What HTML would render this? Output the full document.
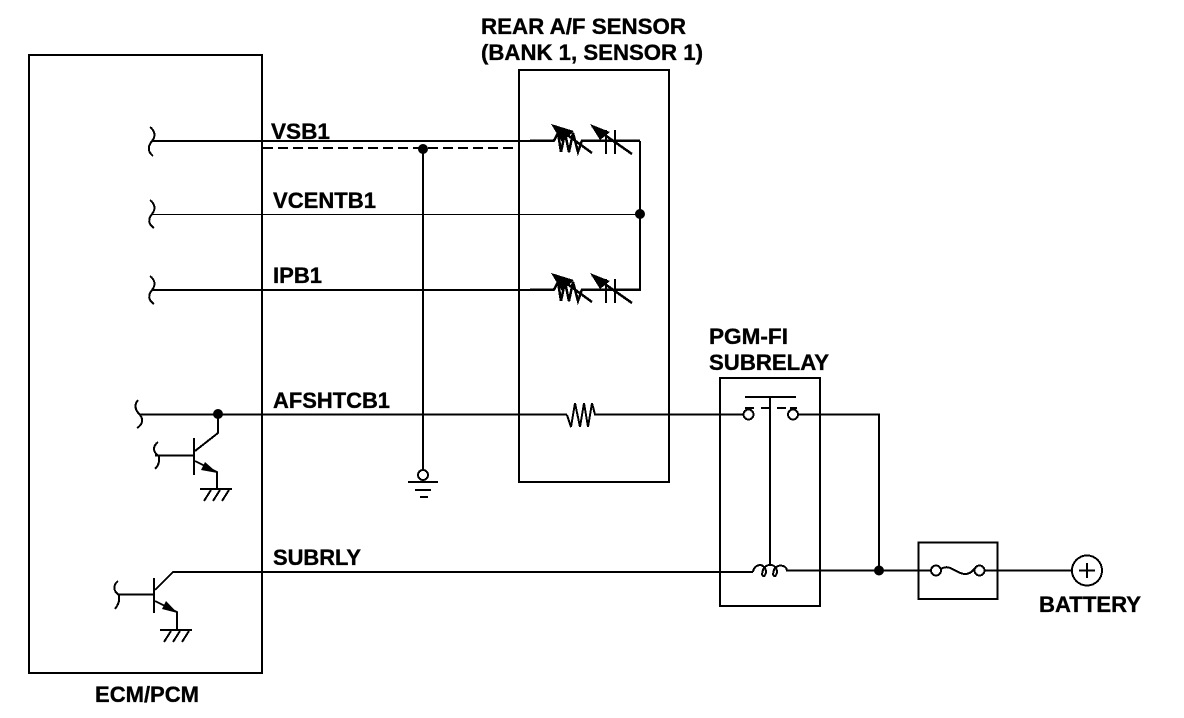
<!DOCTYPE html>
<html><head><meta charset="utf-8"><style>
html,body{margin:0;padding:0;background:#fff}
svg{display:block}
text{font-family:"Liberation Sans",sans-serif;font-weight:bold;font-size:22px;fill:#000;stroke:#000;stroke-width:.35px}
</style></head><body>
<svg width="1184" height="718" viewBox="0 0 1184 718" xmlns="http://www.w3.org/2000/svg">
<defs>
<g id="sensor" fill="none" stroke="#000" shape-rendering="crispEdges">
<path d="M530 140.500H554L558 133L561 152L565 133L569 152L573 133L578 152L582 140.500H640" stroke-width="2.500"/>
<path d="M555 126L592 153M592 126L632 154" stroke-width="2.500"/>
<path d="M606 130V154M615 130V154" stroke-width="2"/>
<path d="M551 124L574 131L562 142Z M590 124L610 132L600 140Z" fill="#000" stroke="none"/>
</g>
<g id="hatch" fill="none" stroke="#000" stroke-width="2" shape-rendering="crispEdges">
<path d="M0 0H32M11 1L4 12M20 1L13 12M29 1L22 12"/>
</g>
</defs>
<g fill="none" stroke="#000" stroke-width="2" shape-rendering="crispEdges">
<rect x="29" y="55" width="233" height="618"/>
<rect x="519" y="70" width="150" height="412"/>
<rect x="720" y="378" width="100" height="228"/>
<rect x="918.500" y="542.500" width="79" height="56.500"/>
<path d="M263 148H519" stroke-dasharray="10 5"/>
<path d="M152 141H530M152 290H530M423 149V470"/>
<path d="M152 214.500H640" stroke-width="1"/>
<path d="M640 141V291"/>
<path d="M150 127C155 131 156 136 152 141C148 146 147 151 153 156"/>
<path d="M150 200C155 204 156 209 152 214C148 219 148 224 154 228"/>
<path d="M150 276C155 280 156 285 152 290C148 295 148 300 154 304"/>
<path d="M138 400C134 405 135 410 140 415C144 420 142 425 137 428M140 414.500H567"/>
<path d="M218 415V433L195 451M194 438V475M155 455.500H194"/>
<path d="M158 442C153 446 152 452 159 456C160 462 158 466 155 469"/>
<path d="M195 461L217 472V490"/>
<path d="M118 581C113 585 113 591 119 595C120 601 118 605 115 609"/>
<path d="M119 594.500H154M154 578V613M155 590L173 572H753M155 601L177 612V630"/>
<path d="M567 415L571 427L575 403L580 427L584 403L588 427L592 403L595 414.500H743"/>
<circle cx="748.500" cy="414.500" r="5"/>
<circle cx="793" cy="414.500" r="5"/>
<path d="M745 397H796M770 397V564M745 408H754M761 408H770M777 408H786M790 408H797"/>
<path d="M798 414.500H879V571"/>
<path d="M753 572C754 564 764 562 766 571C766 578 760 578 763 570C765 564 775 562 777 571C777 578 771 578 774 570C776 564 786 564 787 570.500H931"/>
<circle cx="936" cy="570.500" r="5"/>
<circle cx="979.500" cy="570.500" r="5"/>
<path d="M941 569C950 563 956 574 965 574C971 574 973 570 975 568"/>
<path d="M985 570.500H1072"/>
<circle cx="1087" cy="570.500" r="15"/>
<path d="M1079 570.500H1095M1087 563V578"/>
<circle cx="423" cy="475" r="5"/>
<path d="M408 482H438M415 490H431M420 497H428"/>
</g>
<use href="#sensor"/>
<use href="#sensor" y="149"/>
<use href="#hatch" x="200" y="489"/>
<use href="#hatch" x="160" y="630"/>
<path d="M217.500 473L205 462L201 470Z M177.500 613L166 601L162 609Z" fill="#000"/>
<g fill="#000">
<circle cx="423" cy="149" r="5"/>
<circle cx="640" cy="214" r="5"/>
<circle cx="218" cy="414" r="5"/>
<circle cx="879" cy="570.500" r="5"/>
</g>
<text x="481" y="34" textLength="205" lengthAdjust="spacingAndGlyphs">REAR A/F SENSOR</text>
<text x="481" y="60" textLength="222" lengthAdjust="spacingAndGlyphs">(BANK 1, SENSOR 1)</text>
<text x="271" y="139" textLength="59" lengthAdjust="spacingAndGlyphs">VSB1</text>
<text x="273" y="208" textLength="103" lengthAdjust="spacingAndGlyphs">VCENTB1</text>
<text x="273" y="283" textLength="49" lengthAdjust="spacingAndGlyphs">IPB1</text>
<text x="273" y="408" textLength="117" lengthAdjust="spacingAndGlyphs">AFSHTCB1</text>
<text x="273" y="565" textLength="88" lengthAdjust="spacingAndGlyphs">SUBRLY</text>
<text x="709" y="344" textLength="79" lengthAdjust="spacingAndGlyphs">PGM-FI</text>
<text x="709" y="370" textLength="120" lengthAdjust="spacingAndGlyphs">SUBRELAY</text>
<text x="1039" y="612" textLength="102" lengthAdjust="spacingAndGlyphs">BATTERY</text>
<text x="95" y="702" textLength="104" lengthAdjust="spacingAndGlyphs">ECM/PCM</text>
</svg>
</body></html>
